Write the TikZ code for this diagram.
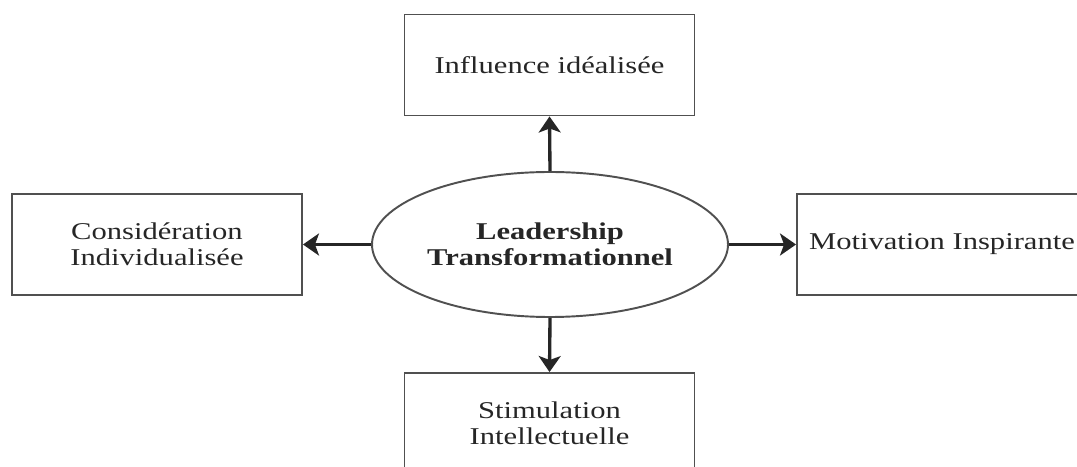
\documentclass[tikz,border=0pt]{standalone}
\usepackage{fontspec}
\setmainfont{Liberation Serif}[FakeStretch=1.27]
\usetikzlibrary{arrows.meta,shapes.geometric}
\definecolor{edge}{HTML}{505050}
\definecolor{ink}{HTML}{262626}
\begin{document}
\begin{tikzpicture}[x=0.02cm, y=0.02cm,
		every node/.style = {font=\fontsize{13.7}{14.8}\selectfont, text=ink, align=center},
		pillar/.style = {draw=edge, line width=1.1pt, rectangle, minimum width=290*0.02cm, minimum height=101*0.02cm, inner sep=0pt},
		core/.style = {draw=edge, line width=1.1pt, ellipse, minimum width=356*0.02cm, minimum height=145*0.02cm, inner sep=0pt},
		link/.style = {draw=ink, line width=1.9pt, -{Stealth[length=16*0.02cm, width=22*0.02cm, inset=4*0.02cm]}}]
		\useasboundingbox (0,0) rectangle (1077,466);
		\clip (0,0) rectangle (1077,466);
		\node [core] (lt) at (550,221.5) {\textbf{Leadership}\\\textbf{Transformationnel}};
		\node [pillar] (infl) at (549.5,401) {Influence idéalisée};
		\node [pillar] (cons) at (157,221.5) {Considération\\Individualisée};
		\node [pillar] (moti) at (942,221.5) {Motivation Inspirante};
		\node [pillar] (stim) at (549.5,42.5) {Stimulation\\Intellectuelle};
		\draw [link] (lt.north) -- (infl.south);
		\draw [link] (lt.west) -- (cons.east);
		\draw [link] (lt.east) -- (moti.west);
		\draw [link] (lt.south) -- (stim.north);
	\end{tikzpicture}
\end{document}
